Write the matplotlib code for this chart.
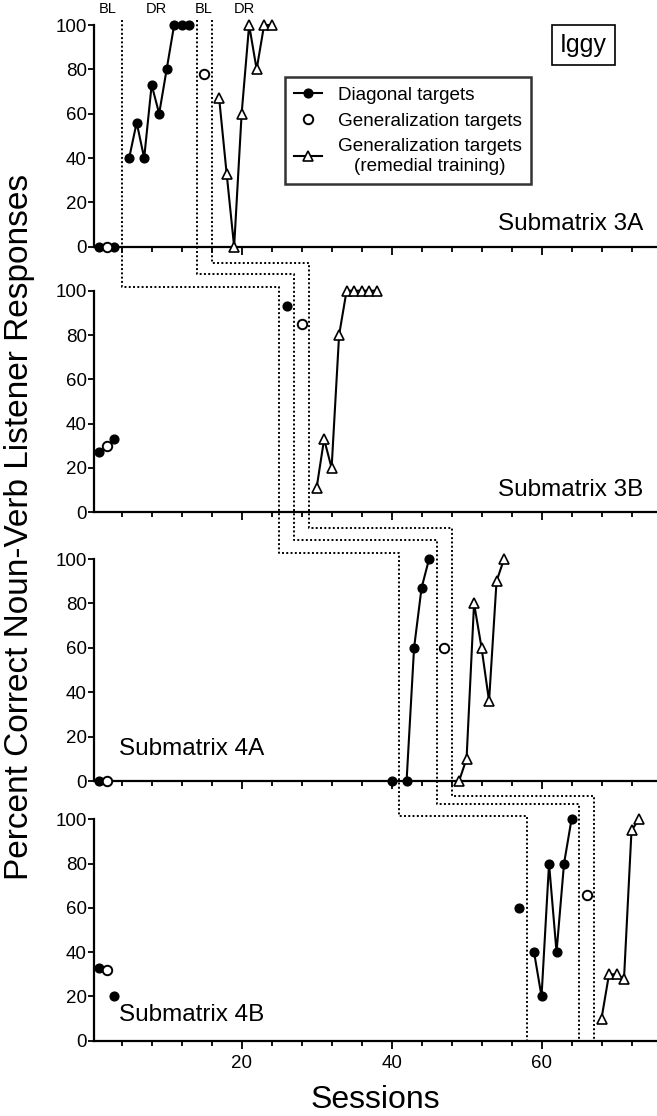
import matplotlib
matplotlib.use("Agg")
import matplotlib.pyplot as plt
from matplotlib.lines import Line2D
from matplotlib.transforms import blended_transform_factory

plt.rcParams['font.family'] = ['Liberation Sans', 'DejaVu Sans']

# ---------------- data ----------------
# Submatrix 3A
a3_diag_iso_x = [1, 3]
a3_diag_iso_y = [0, 0]
a3_diag_x = [5, 6, 7, 8, 9, 10, 11, 12, 13]
a3_diag_y = [40, 56, 40, 73, 60, 80, 100, 100, 100]
a3_gen_x = [2, 15]
a3_gen_y = [0, 78]
a3_rem_x = [17, 18, 19, 20, 21, 22, 23, 24]
a3_rem_y = [67, 33, 0, 60, 100, 80, 100, 100]

# Submatrix 3B
b3_diag_iso_x = [1, 3, 26]
b3_diag_iso_y = [27, 33, 93]
b3_diag_x = []
b3_diag_y = []
b3_gen_x = [2, 28]
b3_gen_y = [30, 85]
b3_rem_x = [30, 31, 32, 33, 34, 35, 36, 37, 38]
b3_rem_y = [11, 33, 20, 80, 100, 100, 100, 100, 100]

# Submatrix 4A
a4_diag_iso_x = [1, 40]
a4_diag_iso_y = [0, 0]
a4_diag_x = [42, 43, 44, 45]
a4_diag_y = [0, 60, 87, 100]
a4_gen_x = [2, 47]
a4_gen_y = [0, 60]
a4_rem_x = [49, 50, 51, 52, 53, 54, 55]
a4_rem_y = [0, 10, 80, 60, 36, 90, 100]

# Submatrix 4B
b4_diag_iso_x = [1, 3, 57]
b4_diag_iso_y = [33, 20, 60]
b4_diag_x = [59, 60, 61, 62, 63, 64]
b4_diag_y = [40, 20, 80, 40, 80, 100]
b4_gen_x = [2, 66]
b4_gen_y = [32, 66]
b4_rem_x = [68, 69, 70, 71, 72, 73]
b4_rem_y = [10, 30, 30, 28, 95, 100]

panel_names = ["Submatrix 3A", "Submatrix 3B", "Submatrix 4A", "Submatrix 4B"]

# phase-change sessions (staircase dotted lines), one per panel
phase1_x = [4, 25, 41, 58]
phase2_x = [14, 27, 46, 65]
phase3_x = [16, 29, 48, 67]

phase_labels = ["BL", "DR", "BL", "DR"]
phase_label_x = [2.2, 8.6, 15.0, 20.3]

yticks = [0, 20, 40, 60, 80, 100]
xticks_major = [20, 40, 60]
xticks_minor = [4, 8, 12, 16, 24, 28, 32, 36, 44, 48, 52, 56, 64, 68, 72]

panels = [
    (a3_diag_iso_x, a3_diag_iso_y, a3_diag_x, a3_diag_y, a3_gen_x, a3_gen_y, a3_rem_x, a3_rem_y),
    (b3_diag_iso_x, b3_diag_iso_y, b3_diag_x, b3_diag_y, b3_gen_x, b3_gen_y, b3_rem_x, b3_rem_y),
    (a4_diag_iso_x, a4_diag_iso_y, a4_diag_x, a4_diag_y, a4_gen_x, a4_gen_y, a4_rem_x, a4_rem_y),
    (b4_diag_iso_x, b4_diag_iso_y, b4_diag_x, b4_diag_y, b4_gen_x, b4_gen_y, b4_rem_x, b4_rem_y),
]

# ---------------- layout ----------------
W, H = 657, 1116
fig = plt.figure(figsize=(W / 100, H / 100), dpi=100)

def fy(py):
    return 1 - py / H

# pixel rows of the 100-line and 0-line in each panel
panel_px = [(25, 246.7), (290.7, 512.3), (559, 781), (819.3, 1040.7)]
left = 94.3 / W
xmin, xmax = 0.35, 75.4

lw = 1.5
ms_c = 6.3
ms_t = 7.6
axes = []
for i, ((top, bot), data) in enumerate(zip(panel_px, panels)):
    ax = fig.add_axes([left, fy(bot), 1 - left, (bot - top) / H])
    axes.append(ax)
    dix, diy, dx, dy, gx, gy, rx, ry = data
    ax.plot(dx, dy, '-', color='black', lw=lw, marker='o', ms=ms_c,
            mfc='black', mec='black', clip_on=False, zorder=4)
    ax.plot(dix, diy, 'o', color='black', ms=ms_c, clip_on=False, zorder=4)
    ax.plot(gx, gy, 'o', mfc='white', mec='black', mew=1.4, ms=ms_c + 0.5,
            clip_on=False, zorder=5)
    ax.plot(rx, ry, '-', color='black', lw=lw, marker='^', ms=ms_t,
            mfc='white', mec='black', mew=1.2, clip_on=False, zorder=4)
    ax.set_xlim(xmin, xmax)
    ax.set_ylim(0, 100)
    ax.spines['top'].set_visible(False)
    ax.spines['right'].set_visible(False)
    ax.spines['left'].set_linewidth(1.6)
    ax.spines['bottom'].set_linewidth(1.6)
    ax.set_yticks(yticks)
    ax.set_yticklabels([str(v) for v in yticks], fontsize=13.5)
    ax.tick_params(axis='y', direction='out', length=4, width=1.3, pad=1.5)
    ax.set_xticks(xticks_major)
    ax.set_xticks(xticks_minor, minor=True)
    ax.tick_params(axis='x', which='major', direction='out', length=5.5, width=1.3, pad=5)
    ax.tick_params(axis='x', which='minor', direction='out', length=3.5, width=1.3)
    if i < 3:
        ax.set_xticklabels([])
    else:
        ax.set_xticklabels([str(v) for v in xticks_major], fontsize=13.5)
    ax.patch.set_alpha(0)

# panel names
fig.text(643 / W, fy(224), panel_names[0], fontsize=17.5, ha='right', va='center')
fig.text(643 / W, fy(490), panel_names[1], fontsize=17.5, ha='right', va='center')
fig.text(119 / W, fy(749), panel_names[2], fontsize=17.5, ha='left', va='center')
fig.text(119 / W, fy(1015), panel_names[3], fontsize=17.5, ha='left', va='center')

# phase labels on top
tr = blended_transform_factory(axes[0].transData, fig.transFigure)
for lab, x in zip(phase_labels, phase_label_x):
    fig.text(x, fy(9), lab, transform=tr, fontsize=10.5, ha='center', va='center')

# staircase dotted phase lines
gap_y = [
    [287.3, 553.3, 816],
    [274, 540, 804.3],
    [263, 528.3, 796],
]
top_y = 20
bottom_y = 1040.7
for xs, gys in zip([phase1_x, phase2_x, phase3_x], gap_y):
    px, py = [xs[0]], [fy(top_y)]
    for k in range(3):
        px += [xs[k], xs[k + 1]]
        py += [fy(gys[k]), fy(gys[k])]
    px.append(xs[3])
    py.append(fy(bottom_y))
    fig.add_artist(Line2D(px, py, transform=tr, color='black', lw=1.4,
                          linestyle=(0, (1, 1.2)), zorder=3))

# legend
handles = [
    Line2D([], [], color='black', lw=lw, marker='o', ms=ms_c, mfc='black'),
    Line2D([], [], color='none', marker='o', ms=ms_c + 0.5, mfc='white', mec='black', mew=1.4),
    Line2D([], [], color='black', lw=lw, marker='^', ms=ms_t, mfc='white', mec='black', mew=1.2),
]
labels = ["Diagonal targets", "Generalization targets",
          "Generalization targets\n(remedial training)"]
leg = fig.legend(handles, labels, loc='upper left',
                 bbox_to_anchor=(285 / W, fy(77.3)), fontsize=13.6,
                 frameon=True, fancybox=False, edgecolor='black',
                 handlelength=1.45, handletextpad=0.85, borderpad=0.5,
                 labelspacing=0.45, borderaxespad=0)
leg.get_frame().set_linewidth(1.8)
for t in leg.get_texts():
    t.set_multialignment('center')

# Iggy box
fig.text(583.5 / W, fy(45), "Iggy", fontsize=18, ha='center', va='center',
         bbox=dict(boxstyle='square,pad=0.32', fc='white', ec='black', lw=1.2))

# axis labels
fig.text(20 / W, fy(527), "Percent Correct Noun-Verb Listener Responses",
         rotation=90, fontsize=24, ha='center', va='center')
fig.text(375 / W, fy(1100), "Sessions", fontsize=23, ha='center', va='center')

fig.savefig("out.png", dpi=100)
